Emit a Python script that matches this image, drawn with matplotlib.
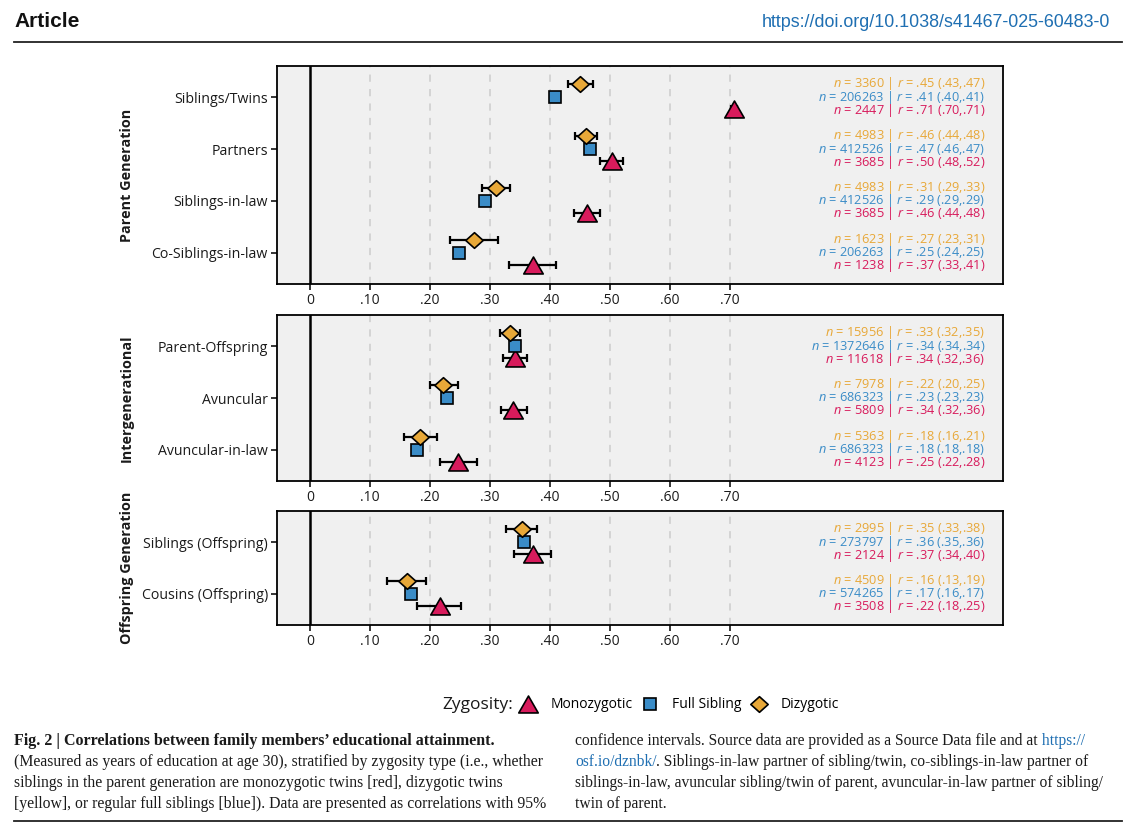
import matplotlib
matplotlib.use("Agg")
import matplotlib.pyplot as plt
from matplotlib.lines import Line2D
from matplotlib.path import Path

# ==============================
# Data
# ==============================

parent_rows = ["Siblings/Twins", "Partners", "Siblings-in-law", "Co-Siblings-in-law"]
inter_rows = ["Parent-Offspring", "Avuncular", "Avuncular-in-law"]
offspring_rows = ["Siblings (Offspring)", "Cousins (Offspring)"]

# parent generation
dz_n_par = [3360, 4983, 4983, 1623]
dz_r_par = [0.450, 0.460, 0.310, 0.274]
dz_lo_par = [0.430, 0.441, 0.287, 0.234]
dz_hi_par = [0.471, 0.478, 0.334, 0.313]
fs_n_par = [206263, 412526, 412526, 206263]
fs_r_par = [0.408, 0.466, 0.292, 0.249]
fs_lo_par = [0.404, 0.462, 0.289, 0.244]
fs_hi_par = [0.412, 0.469, 0.294, 0.253]
mz_n_par = [2447, 3685, 3685, 1238]
mz_r_par = [0.706, 0.503, 0.462, 0.371]
mz_lo_par = [0.701, 0.483, 0.440, 0.331]
mz_hi_par = [0.712, 0.522, 0.483, 0.410]

# intergenerational
dz_n_int = [15956, 7978, 5363]
dz_r_int = [0.333, 0.222, 0.183]
dz_lo_int = [0.317, 0.200, 0.156]
dz_hi_int = [0.350, 0.247, 0.212]
fs_n_int = [1372646, 686323, 686323]
fs_r_int = [0.342, 0.228, 0.179]
fs_lo_int = [0.337, 0.226, 0.177]
fs_hi_int = [0.344, 0.231, 0.182]
mz_n_int = [11618, 5809, 4123]
mz_r_int = [0.341, 0.339, 0.246]
mz_lo_int = [0.322, 0.318, 0.217]
mz_hi_int = [0.362, 0.361, 0.278]

# offspring generation
dz_n_off = [2995, 4509]
dz_r_off = [0.353, 0.161]
dz_lo_off = [0.327, 0.128]
dz_hi_off = [0.379, 0.193]
fs_n_off = [273797, 574265]
fs_r_off = [0.357, 0.168]
fs_lo_off = [0.352, 0.164]
fs_hi_off = [0.362, 0.172]
mz_n_off = [2124, 3508]
mz_r_off = [0.372, 0.216]
mz_lo_off = [0.340, 0.179]
mz_hi_off = [0.402, 0.252]

x_ticks = [0, 0.1, 0.2, 0.3, 0.4, 0.5, 0.6, 0.7]
x_labels = ["0", ".10", ".20", ".30", ".40", ".50", ".60", ".70"]

# ==============================
# Style
# ==============================

plt.rcParams['font.family'] = ['Open Sans', 'DejaVu Sans']
plt.rcParams['mathtext.fontset'] = 'custom'
plt.rcParams['mathtext.it'] = 'Open Sans:italic'
plt.rcParams['mathtext.rm'] = 'Open Sans'

RED = '#D81B5C'
BLUE = '#3A8CC7'
YELLOW = '#E8A838'
PANEL_BG = '#F0F0F0'

TRI = Path([(0, 0.87), (-1, -0.87), (1, -0.87), (0, 0.87)],
           [Path.MOVETO, Path.LINETO, Path.LINETO, Path.CLOSEPOLY])
DIA = Path([(0, 0.9), (1, 0), (0, -0.9), (-1, 0), (0, 0.9)],
           [Path.MOVETO, Path.LINETO, Path.LINETO, Path.LINETO, Path.CLOSEPOLY])

W, H = 1137, 825
fig = plt.figure(figsize=(W / 100, H / 100), dpi=100)


def box(l, t, r, b):
    return [l / W, 1 - b / H, (r - l) / W, (b - t) / H]


def fmt(v):
    return f"{v:.2f}"[1:]


# zygosity groups: marker, size, colour, offset
groups = [
    ("mz", TRI, 14.0, RED, 0.23),
    ("fs", "s", 9.0, BLUE, 0.0),
    ("dz", DIA, 12.5, YELLOW, -0.25),
]

panels = [
    ("Parent Generation", parent_rows, box(277, 66, 1003, 284), {
        "mz": (mz_n_par, mz_r_par, mz_lo_par, mz_hi_par),
        "fs": (fs_n_par, fs_r_par, fs_lo_par, fs_hi_par),
        "dz": (dz_n_par, dz_r_par, dz_lo_par, dz_hi_par)}),
    ("Intergenerational", inter_rows, box(277, 315, 1003, 481), {
        "mz": (mz_n_int, mz_r_int, mz_lo_int, mz_hi_int),
        "fs": (fs_n_int, fs_r_int, fs_lo_int, fs_hi_int),
        "dz": (dz_n_int, dz_r_int, dz_lo_int, dz_hi_int)}),
    ("Offspring Generation", offspring_rows, box(277, 511, 1003, 625), {
        "mz": (mz_n_off, mz_r_off, mz_lo_off, mz_hi_off),
        "fs": (fs_n_off, fs_r_off, fs_lo_off, fs_hi_off),
        "dz": (dz_n_off, dz_r_off, dz_lo_off, dz_hi_off)}),
]

text_offsets = {"dz": -0.26, "fs": 0.0, "mz": 0.25}

for title, rows, rect, data in panels:
    ax = fig.add_axes(rect)
    ax.set_facecolor(PANEL_BG)
    ax.set_xlim(-0.055, 1.155)
    ax.set_ylim(len(rows) - 1 + 0.6, -0.6)

    for x in x_ticks[1:]:
        ax.axvline(x, color='#D2D2D2', lw=1.3, ls=(0, (4, 4)), zorder=1)
    ax.axvline(0, color='black', lw=1.8, zorder=2)

    # error bars first, points on top
    for key, marker, ms, color, off in groups:
        n, r, lo, hi = data[key]
        ys = [i + off for i in range(len(rows))]
        xerr = [[ri - l for ri, l in zip(r, lo)], [h - ri for ri, h in zip(r, hi)]]
        ax.errorbar(r, ys, xerr=xerr, fmt='none', ecolor='black',
                    elinewidth=1.6, capsize=3, capthick=1.6, zorder=3)
    for z, (key, marker, ms, color, off) in enumerate(groups):
        n, r, lo, hi = data[key]
        ys = [i + off for i in range(len(rows))]
        ax.plot(r, ys, ls='none', marker=marker, ms=ms, mfc=color,
                mec='black', mew=1.2, zorder=4 + z)

    for key, marker, ms, color, off in groups:
        n, r, lo, hi = data[key]
        for i in range(len(rows)):
            label = (f"$n$ = {n[i]} | $r$ = {fmt(r[i])} "
                     f"({fmt(lo[i])},{fmt(hi[i])})")
            ax.text(1.125, i + text_offsets[key], label, ha='right',
                    va='center', fontsize=9.2, color=color, zorder=6)

    ax.set_yticks(range(len(rows)))
    ax.set_yticklabels(rows, fontsize=10.2, color='#1A1A1A')
    ax.set_xticks(x_ticks)
    ax.set_xticklabels(x_labels, fontsize=10, color='#1A1A1A')
    ax.tick_params(axis='both', length=4, width=1.1, color='black', pad=2.5)
    for s in ax.spines.values():
        s.set_linewidth(1.3)
        s.set_color('black')
    ax.set_ylabel(title, fontsize=10.4, fontweight='bold', color='#1A1A1A')
    ax.yaxis.set_label_coords(-0.197, 0.5)

# ==============================
# Legend
# ==============================

handles = [
    Line2D([], [], ls='none', marker=TRI, ms=14.0, mfc=RED, mec='black', mew=1.2),
    Line2D([], [], ls='none', marker='s', ms=9.0, mfc=BLUE, mec='black', mew=1.2),
    Line2D([], [], ls='none', marker=DIA, ms=12.5, mfc=YELLOW, mec='black', mew=1.2),
]
fig.legend(handles, ["Monozygotic", "Full Sibling", "Dizygotic"],
           loc='center left', bbox_to_anchor=(519 / W, 1 - 705 / H), ncol=3,
           frameon=False, fontsize=10, handlelength=1.3, handletextpad=0.95,
           columnspacing=0.6, borderpad=0, borderaxespad=0)
fig.text(513 / W, 1 - 705 / H, "Zygosity:", ha='right', va='center',
         fontsize=12.5, color='#1A1A1A')

# ==============================
# Page header and caption
# ==============================

HEAD_FONT = ['Liberation Sans Narrow', 'Liberation Sans', 'DejaVu Sans']
CAP_FONT = ['Liberation Serif', 'DejaVu Serif']
LINK = '#1F6FB2'

fig.text(14 / W, 1 - 27 / H, "Article", ha='left', va='baseline',
         fontsize=15, fontweight='bold', family=HEAD_FONT, color='#111111')
fig.text(1110 / W, 1 - 27 / H, "https://doi.org/10.1038/s41467-025-60483-0",
         ha='right', va='baseline', fontsize=12.9, family=HEAD_FONT, color=LINK)
fig.add_artist(Line2D([14 / W, 1122 / W], [1 - 42 / H, 1 - 42 / H],
                      transform=fig.transFigure, color='#222222', lw=1.3))
fig.add_artist(Line2D([14 / W, 1122 / W], [1 - 821 / H, 1 - 821 / H],
                      transform=fig.transFigure, color='#222222', lw=1.3))

renderer = fig.canvas.get_renderer()


def rich_line(x_px, y_px, parts, size=11.35):
    x = x_px
    for txt, color, weight in parts:
        t = fig.text(x / W, 1 - y_px / H, txt, color=color, fontweight=weight,
                     fontsize=size, family=CAP_FONT, ha='left', va='baseline')
        x += t.get_window_extent(renderer=renderer).width


K = '#1A1A1A'
col1 = [
    [("Fig. 2 | Correlations between family members\u2019 educational attainment.", K, 'bold')],
    [("(Measured as years of education at age 30), stratified by zygosity type (i.e., whether", K, 'normal')],
    [("siblings in the parent generation are monozygotic twins [red], dizygotic twins", K, 'normal')],
    [("[yellow], or regular full siblings [blue]). Data are presented as correlations with 95%", K, 'normal')],
]
col2 = [
    [("confidence intervals. Source data are provided as a Source Data file and at", K, 'normal'),
     (" https://", LINK, 'normal')],
    [("osf.io/dznbk/", LINK, 'normal'),
     (". Siblings-in-law partner of sibling/twin, co-siblings-in-law partner of", K, 'normal')],
    [("siblings-in-law, avuncular sibling/twin of parent, avuncular-in-law partner of sibling/", K, 'normal')],
    [("twin of parent.", K, 'normal')],
]
baselines = [745, 766, 787, 808]
for y, parts in zip(baselines, col1):
    rich_line(14, y, parts, size=11.5 if parts[0][2] == 'bold' else 11.35)
for y, parts in zip(baselines, col2):
    rich_line(575, y, parts, size=11.2)

fig.savefig("out.png", dpi=100)
